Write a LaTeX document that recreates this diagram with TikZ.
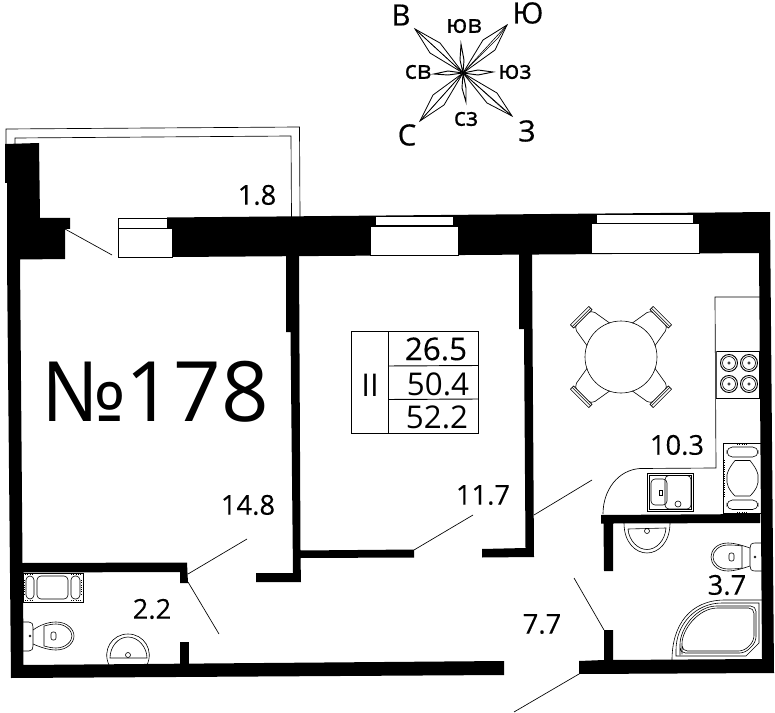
\documentclass[tikz,border=0pt]{standalone}
\usepackage{fontspec}
\setmainfont{Open Sans}
\newfontfamily\heavyfont[FakeBold=0.5]{Open Sans}
\newfontfamily\mediumfont[FakeBold=0.25]{Open Sans}
\begin{document}
\begin{tikzpicture}[x=0.75pt,y=-0.75pt,
	wall/.style={fill=black,draw=none},
	thinline/.style={line width=0.5pt},
	wnd/.style={fill=white,draw=black,line width=0.6pt},
	fixture/.style={line width=0.45pt},
	specks/.style={line width=0.7pt,densely dotted},
	area/.style={inner sep=0pt,font=\mediumfont\fontsize{20.5}{20.5}\selectfont},
	tablenum/.style={inner sep=0pt,font=\fontsize{23.5}{23.5}\selectfont},
	compass/.style={inner sep=0pt,font=\heavyfont\fontsize{22}{22}\selectfont},
	compasslow/.style={inner sep=0pt,font=\heavyfont\fontsize{19}{19}\selectfont}]
	\useasboundingbox (0,0) rectangle (775,713);
	% balcony
	\draw[thinline] (6,144) -- (6,129) -- (299.5,127) -- (300,217);
	\draw[thinline] (15,144) -- (15,138) -- (291,136) -- (291.5,217);
	% walls
	\fill[wall] (5,144) -- (39,143) -- (40,218) -- (70,218) -- (70,229) -- (65,229) -- (65,259) -- (20,259.5) -- (22.5,563) -- (187,562.5) -- (188,583) -- (180,583) -- (180,572) -- (23,572.5) -- (23.5,665) -- (504,661) -- (504,675) -- (11,678) -- (7,259) -- (7,183) -- (5,183) -- cycle;
	\fill[wall] (167,217.5) -- (770,212) -- (774,673) -- (579,674) -- (579,661) -- (604,660) -- (604,630) -- (613,630) -- (613,660) -- (762,659) -- (759,253) -- (172,257) -- (172,229) -- (167,229) -- cycle;
	\fill[wall] (601,515) -- (760,514) -- (760,523) -- (613,523.5) -- (613,571) -- (604,571) -- (603.5,523.5) -- (601,523.5) -- cycle;
	\fill[wall] (286,256) -- (299,256) -- (300.5,550.5) -- (414,549.5) -- (414,557.5) -- (300.5,558) -- (301,582) -- (256,582) -- (256,573) -- (293,573) -- (290.5,332) -- (286,332) -- cycle;
	\fill[wall] (519,254) -- (532,254) -- (534,557) -- (482,557.5) -- (482,549) -- (525.5,548) -- (524,329) -- (519,329) -- cycle;
	\fill[wall] (180,642) -- (189,642) -- (189,665) -- (180,665) -- cycle;
	% windows
	\draw[wnd] (118,218) rectangle (167,228);
	\draw[wnd] (118,228) rectangle (172,257);
	\draw[wnd] (375,216) rectangle (453,225);
	\draw[wnd] (370,226) rectangle (458,255.5);
	\draw[wnd] (596,214) rectangle (693,223);
	\draw[wnd] (591.5,223) rectangle (699,253);
	% doors
	\draw[thinline] (65,229) -- (112,255);
	\draw[thinline] (188,574) -- (247,539);
	\draw[thinline] (188,582) -- (219,634);
	\draw[thinline] (414,550) -- (473,515);
	\draw[thinline] (534,515) -- (592,480);
	\draw[thinline] (574,578) -- (604,630);
	\draw[thinline] (579,674) -- (514,712);
	% kitchen counter
	\draw[thinline] (760,297) -- (715,297) -- (716,468) -- (640,468.5) .. controls (618,470) and (603,490) .. (603,514);
	\draw[fixture,fill=white] (716,351) rectangle (759,398);
	\draw[line width=1.2pt,black!70] (716,351) -- (716,398);
	\foreach \bx/\by in {729/363,749/363,729/384,749/384}{
		\draw[fixture,line width=0.7pt] (\bx,\by) circle (8.5);
		\draw[fixture] (\bx,\by) circle (6.5);
		\draw[fixture] (\bx,\by) circle (1.2);
	}
	% table and chairs
	\draw[fixture] (621,357) circle (36);
	\foreach \a in {45,135,225,315}{
		\begin{scope}[shift={(621,357)},rotate=\a]
			\draw[fixture] (32,16) -- (50,13) .. controls (53,12) and (54,10) .. (54,9);
			\draw[fixture] (32,-16) -- (50,-13) .. controls (53,-12) and (54,-10) .. (54,-9);
			\draw[fixture] (54,-13) rectangle (58.5,13);
			\draw[fixture] (56,-13) -- (56,13);
		\end{scope}
	}
	% kitchen sink
	\draw[fixture] (647,473) rectangle (693,511);
	\draw[fixture] (649,475) rectangle (691,509);
	\draw[fixture,rounded corners=3] (651,479) rectangle (667,505);
	\draw[fixture,rounded corners=3] (665,475.5) rectangle (691,509);
	\draw[fixture] (659.5,490) rectangle (662,495);
	\draw[fixture] (678,504) circle (3);
	% unit in the kitchen
	\draw[fixture] (723,443.5) rectangle (761,513);
	\draw[specks] (737,444.5) -- (748,444.5);
	\draw[specks] (737,512) -- (748,512);
	\draw[specks] (724.5,460) -- (724.5,497);
	\draw[fixture,rounded corners=4] (727,447) rectangle (758,457);
	\draw[fixture,rounded corners=4] (727,500) rectangle (758,509.5);
	\draw[fixture] (735,460.5) -- (750,460.5) .. controls (756,468) and (759,474) .. (758,478) .. controls (759,484) and (756,490) .. (750,496) -- (735,496) .. controls (729,490) and (726,484) .. (727,478) .. controls (726,474) and (729,468) .. (735,460.5);
	% basin near the kitchen wall
	\draw[fixture] (624,523) .. controls (624,543) and (636,553) .. (647,553) .. controls (658,553) and (670,543) .. (670,523);
	\draw[fixture] (628,529) -- (666,528) .. controls (665,541) and (656,549.5) .. (647,549.5) .. controls (638,549.5) and (629,541) .. (628,529);
	\draw[fixture] (647,531) circle (2.5);
	% toilet on the right
	\draw[fixture] (762,543) -- (755,543) .. controls (751,543) and (750,545) .. (750,548) -- (750,566) .. controls (750,569) and (751,571) .. (755,571) -- (762,571);
	\draw[fixture] (750,548) .. controls (744,546) and (735,543) .. (728,543) .. controls (717,543) and (711,550) .. (711,557) .. controls (711,564) and (717,571) .. (728,571) .. controls (735,571) and (744,568) .. (750,566);
	\draw[fixture] (742,546) .. controls (736,545) and (731,545) .. (728,545) .. controls (719,545) and (713,551) .. (713,557) .. controls (713,563) and (719,569) .. (728,569) .. controls (731,569) and (736,569) .. (742,568) -- cycle;
	\draw[fixture,rounded corners=1.5] (729,553) rectangle (734,561);
	\draw[fixture] (755,557) circle (1);
	% bath
	\draw[fixture] (672,660) .. controls (672,625) and (690,600) .. (725,600) -- (762,600);
	\draw[fixture] (676,656) -- (746,656) -- (759,643) -- (759,603) -- (722,603) .. controls (695,603) and (676,625) .. (676,650) -- cycle;
	\draw[fixture,rounded corners=4] (680,653) -- (745,653) -- (756,642) -- (756,606) -- (722,606) .. controls (697,606) and (680,628) .. (680,650) -- cycle;
	\draw[fixture,rounded corners=4] (682,651) -- (744,651) -- (754,641) -- (754,608) -- (723,608) .. controls (698,608) and (682,630) .. (682,649) -- cycle;
	% unit in the small bathroom
	\draw[fixture] (23,573) rectangle (83,602);
	\draw[specks] (25,574.5) -- (34,574.5);
	\draw[specks] (71,574.5) -- (81,574.5);
	\draw[specks] (25,600.5) -- (34,600.5);
	\draw[specks] (71,600.5) -- (81,600.5);
	\draw[specks] (24.5,580) -- (24.5,595);
	\draw[specks] (81.5,580) -- (81.5,595);
	\draw[fixture,rounded corners=3] (26,576) rectangle (34,599);
	\draw[fixture,rounded corners=3] (71,576) rectangle (80,599);
	\draw[fixture,rounded corners=3] (37,576) rectangle (68,599);
	% toilet on the left
	\draw[fixture] (23,622) -- (29,622) .. controls (32,622) and (33,624) .. (33,627) -- (33,646) .. controls (33,649) and (32,651) .. (29,651) -- (23,651);
	\draw[fixture] (33,630) .. controls (40,625) and (48,622) .. (56,622) .. controls (68,622) and (74,630) .. (74,636) .. controls (74,642) and (68,650) .. (56,650) .. controls (48,650) and (40,647) .. (33,644);
	\draw[fixture] (44,626) .. controls (48,625) and (52,624) .. (56,624) .. controls (66,624) and (72,631) .. (72,636) .. controls (72,641) and (66,648) .. (56,648) .. controls (52,648) and (48,647) .. (44,646) -- cycle;
	\draw[fixture,rounded corners=1.5] (51,632) rectangle (56,640);
	\draw[fixture] (30,636) circle (1);
	% basin in the small bathroom
	\draw[fixture] (109,665) .. controls (102,650) and (112,634) .. (128,634) .. controls (144,634) and (154,650) .. (147,665);
	\draw[fixture] (110,658) .. controls (110,647) and (118,637) .. (128,637) .. controls (138,637) and (147,647) .. (147,658) -- cycle;
	\draw[fixture] (128,655) circle (2.5);
	% area table
	\draw[thinline,line width=0.7pt] (351,331) rectangle (478,433);
	\draw[thinline,line width=0.7pt] (388,331) -- (388,433);
	\draw[thinline,line width=0.7pt] (388,366) -- (478,365.5);
	\draw[thinline,line width=0.7pt] (388,399.5) -- (478,399);
	\node[tablenum] (level) at (370,385) {II};
	\node[tablenum,font=\mediumfont\fontsize{23.5}{23.5}\selectfont] (living) at (436,349) {26.5};
	\node[tablenum] (total) at (438,384) {50.4};
	\node[tablenum] (gross) at (437,417) {52.2};
	% labels
	\node[inner sep=0pt,font=\fontsize{62.5}{63}\selectfont] (flatno) at (155,392) {№178};
	\node[area] (balc) at (257,195) {1.8};
	\node[area] (room1) at (248,505) {14.8};
	\node[area] (room2) at (483,495) {11.7};
	\node[area] (kitch) at (677,445) {10.3};
	\node[area] (wc1) at (152,609) {2.2};
	\node[area] (wc2) at (727,585) {3.7};
	\node[area] (hall) at (542,624) {7.7};
	% compass
	\coordinate (cen) at (463,73);
	\foreach \tip/\qa/\qb/\qc in {{415,29}/{440,43}/{430,53}/{427,40},{507,25}/{483,40}/{495,50}/{498,38},{420,121}/{433,95}/{444,105}/{430,110},{512,116}/{497,93}/{487,103}/{502,108}}{
		\draw[fixture,line width=0.6pt] (cen) -- (\qa) -- (\tip) -- (\qb) -- cycle;
		\draw[fixture] (cen) -- (\qc) -- (\tip);
		\draw[fixture] (cen) -- (\tip);
	}
	\foreach \tip/\qa/\qb in {{461,44}/{460,60}/{464,60},{466,102}/{462,88}/{466,88},{434,74}/{448,71}/{448,75},{493,72}/{478,70}/{478,75}}{
		\draw[fixture,line width=0.7pt] (cen) -- (\qa) -- (\tip) -- (\qb) -- cycle;
	}
	\node[compass] (east) at (401,15) {В};
	\node[compass] (west) at (528,13) {Ю};
	\node[compass] (north) at (407,135) {С};
	\node[compass] (south) at (527,131) {З};
	\node[compasslow] (se) at (464,26) {юв};
	\node[compasslow] (ne) at (418,72) {св};
	\node[compasslow] (sw) at (515,72) {юз};
	\node[compasslow] (nw) at (466,119) {сз};
\end{tikzpicture}
\end{document}
